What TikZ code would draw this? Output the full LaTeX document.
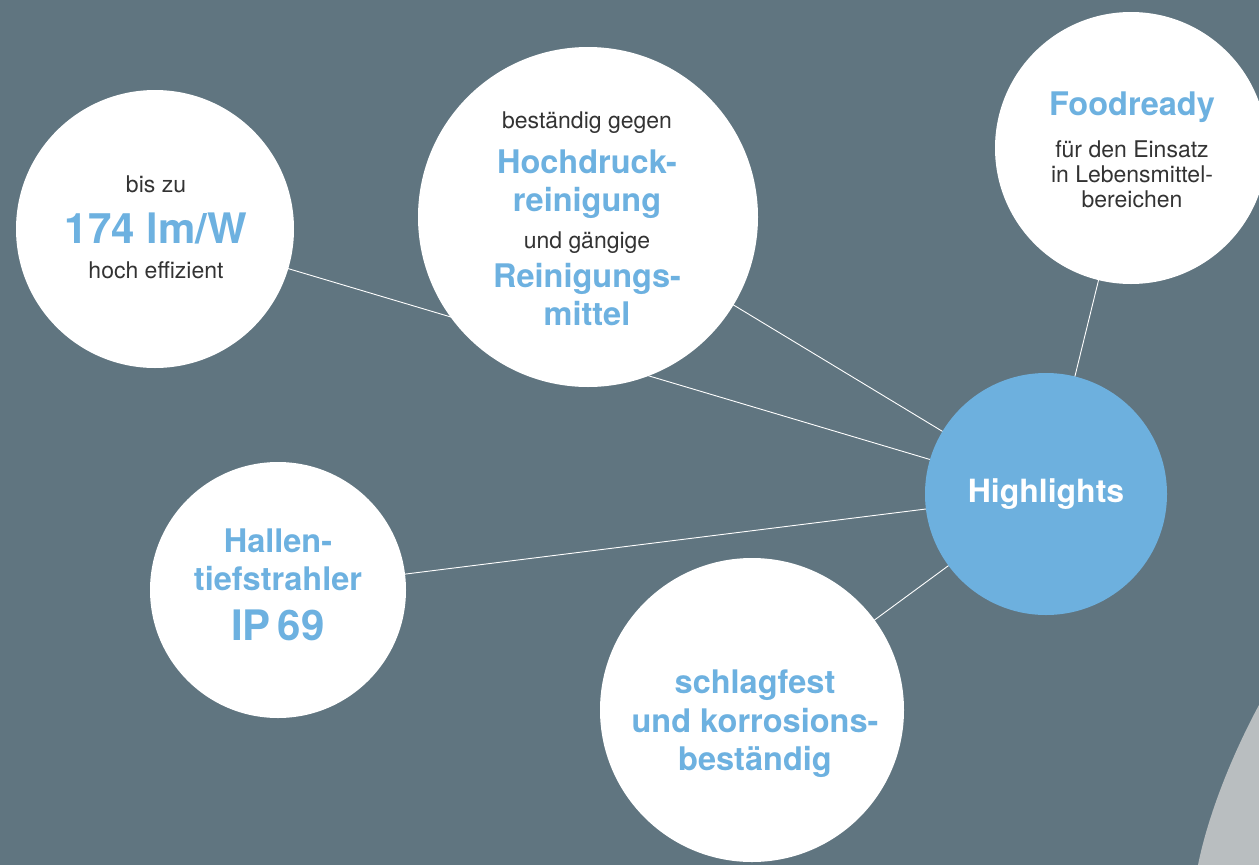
\documentclass[tikz,border=0pt]{standalone}
\usepackage{fontspec}
\setmainfont{TeX Gyre Heros}
\usetikzlibrary{backgrounds}
\definecolor{bgslate}{HTML}{607580}
\definecolor{hlblue}{HTML}{6DB0DE}
\definecolor{txtblue}{HTML}{6DB1E0}
\definecolor{txtdark}{HTML}{333333}
\definecolor{lampgray}{HTML}{B9BEC0}
\begin{document}
\begin{tikzpicture}[x=1pt,y=-1pt,
  bubble/.style={circle, fill=white, inner sep=0pt, minimum size=#1},
  hub/.style={circle, fill=hlblue, inner sep=0pt, minimum size=242pt, text=white,
    font=\fontsize{32}{37}\selectfont\bfseries},
  smalltxt/.style={font=\fontsize{23}{27}\selectfont, text=txtdark, anchor=base, inner sep=0pt},
  bigtxt/.style={font=\fontsize{32.5}{37}\selectfont\bfseries, text=txtblue, anchor=base, inner sep=0pt},
  hugetxt/.style={font=\fontsize{42}{48}\selectfont\bfseries, text=txtblue, anchor=base, inner sep=0pt},
  link/.style={draw=white, line width=0.9pt}]
\useasboundingbox (0,0) rectangle (1259,865);

% circles
\node[bubble=278pt] (eff) at (155,229) {};
\node[bubble=340pt] (hoch) at (588,217) {};
\node[bubble=272pt] (food) at (1131,148) {};
\node[hub] (hl) at (1046,494) {Highlights};
\node[bubble=256pt] (hall) at (278,590) {};
\node[bubble=304pt] (schl) at (752,710) {};

% texts
\node[smalltxt] (t1a) at (156,192) {bis zu};
\node[hugetxt]  (t1b) at (156,243) {174 lm/W};
\node[smalltxt] (t1c) at (156,278) {hoch effizient};

\node[smalltxt] (t2a) at (587,128) {beständig gegen};
\node[bigtxt]   (t2b) at (587,173) {Hochdruck-};
\node[bigtxt]   (t2c) at (587,211) {reinigung};
\node[smalltxt] (t2d) at (587,248) {und gängige};
\node[bigtxt]   (t2e) at (587,287) {Reinigungs-};
\node[bigtxt]   (t2f) at (587,325) {mittel};

\node[bigtxt]   (t3a) at (1132,115) {Foodready};
\node[smalltxt] (t3b) at (1132,157) {für den Einsatz};
\node[smalltxt] (t3c) at (1132,182) {in Lebensmittel-};
\node[smalltxt] (t3d) at (1132,207) {bereichen};

\node[bigtxt]   (t4a) at (278,552) {Hallen-};
\node[bigtxt]   (t4b) at (278,590) {tiefstrahler};
\node[hugetxt]  (t4c) at (278,640) {IP\,69};

\node[bigtxt]   (t5a) at (755,693) {schlagfest};
\node[bigtxt]   (t5b) at (755,732) {und korrosions-};
\node[bigtxt]   (t5c) at (755,770) {beständig};

\begin{scope}[on background layer]
  \fill[bgslate] (0,0) rectangle (1259,865);
  \fill[lampgray] (1259,705) .. controls (1232,755) and (1208,815) .. (1198,865)
    -- (1259,865) -- cycle;
  \draw[link] (eff.center) -- (hl.center);
  \draw[link] (hoch.center) -- (hl.center);
  \draw[link] (food.center) -- (hl.center);
  \draw[link] (hall.center) -- (hl.center);
  \draw[link] (schl.center) -- (hl.center);
\end{scope}
\end{tikzpicture}
\end{document}
